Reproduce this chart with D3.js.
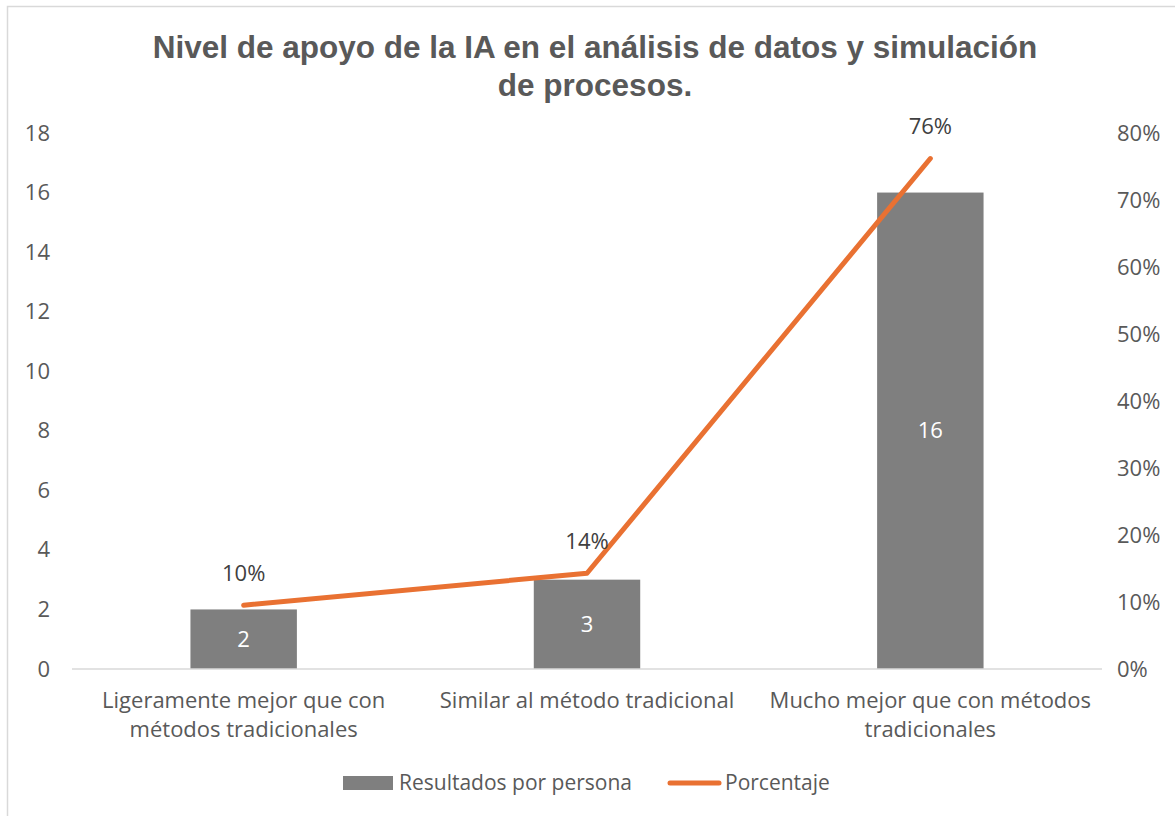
<!DOCTYPE html>
<html>
<head>
<meta charset="utf-8">
<script src="https://cdn.jsdelivr.net/npm/d3@7"></script>
<style>
  html, body { margin: 0; padding: 0; background: #fff; }
  svg { display: block; }
  text { font-family: "Open Sans", "Liberation Sans", sans-serif; fill: #595959; }
</style>
</head>
<body>
<svg id="chart"></svg>
<script>
// data
const categories = [
    ['Ligeramente mejor que con', 'métodos tradicionales'],
    ['Similar al método tradicional'],
    ['Mucho mejor que con métodos', 'tradicionales']
];
const personas = [2, 3, 16];
const porcentaje = [0.0952, 0.1429, 0.7619];
const leftTicks = [0, 2, 4, 6, 8, 10, 12, 14, 16, 18];
const rightTicks = [0, 0.1, 0.2, 0.3, 0.4, 0.5, 0.6, 0.7, 0.8];
const titleLines = ['Nivel de apoyo de la IA en el análisis de datos y simulación', 'de procesos.'];
const legendNames = ['Resultados por persona', 'Porcentaje'];

const width = 1175, height = 816;
const margin = { top: 133, right: 73, bottom: 147, left: 72 };
const barColor = '#7f7f7f', lineColor = '#e97132';

const svg = d3.select('#chart').attr('width', width).attr('height', height);

//chart frame (only left and top edges are in view)
svg.append('rect')
    .attr('x', 7.5).attr('y', 6.5)
    .attr('width', width + 20).attr('height', height + 20)
    .attr('fill', 'none').attr('stroke', '#d9d9d9').attr('stroke-width', 1.5);

//title
svg.append('text')
    .attr('text-anchor', 'middle')
    .style('font-family', '"Liberation Sans", Arial, sans-serif')
    .style('font-weight', 'bold').style('font-size', '31.5px')
    .selectAll('tspan').data(titleLines)
    .enter().append('tspan')
    .attr('x', 595).attr('y', (d, i) => 58 + i * 38)
    .text(d => d);

const x = d3.scaleBand()
    .domain(d3.range(categories.length))
    .range([margin.left, width - margin.right])
    .paddingInner(0.69).paddingOuter(0.345);

const yLeft = d3.scaleLinear().domain([0, 18]).range([height - margin.bottom, margin.top]);
const yRight = d3.scaleLinear().domain([0, 0.8]).range([height - margin.bottom, margin.top]);

//left axis labels
const leftAxis = svg.append('g')
    .attr('transform', `translate(${margin.left - 22},0)`)
    .call(d3.axisLeft(yLeft).tickValues(leftTicks).tickSize(0).tickPadding(0));
leftAxis.select('.domain').remove();
leftAxis.selectAll('text').style('font-size', '22px').attr('fill', '#595959')
    .style('font-family', '"Open Sans", sans-serif');

//right axis labels
const rightAxis = svg.append('g')
    .attr('transform', `translate(${width - margin.right + 15},0)`)
    .call(d3.axisRight(yRight).tickValues(rightTicks).tickSize(0).tickPadding(0).tickFormat(d3.format('.0%')));
rightAxis.select('.domain').remove();
rightAxis.selectAll('text').style('font-size', '22px').attr('fill', '#595959')
    .style('font-family', '"Open Sans", sans-serif');

//bars
svg.append('g').selectAll('rect').data(personas)
    .enter().append('rect')
    .attr('x', (d, i) => x(i))
    .attr('y', d => yLeft(d))
    .attr('width', x.bandwidth())
    .attr('height', d => yLeft(0) - yLeft(d))
    .attr('fill', barColor);

//baseline
svg.append('line')
    .attr('x1', margin.left).attr('x2', width - margin.right)
    .attr('y1', yLeft(0)).attr('y2', yLeft(0))
    .attr('stroke', '#d9d9d9').attr('stroke-width', 1.5);

//bar value labels
svg.append('g').selectAll('text').data(personas)
    .enter().append('text')
    .attr('x', (d, i) => x(i) + x.bandwidth() / 2)
    .attr('y', d => (yLeft(d) + yLeft(0)) / 2)
    .attr('dy', '0.35em')
    .attr('text-anchor', 'middle')
    .style('fill', '#fff').style('font-size', '22px')
    .text(d => d);

//percentage line
const line = d3.line()
    .x((d, i) => x(i) + x.bandwidth() / 2)
    .y(d => yRight(d));

svg.append('path')
    .datum(porcentaje)
    .attr('d', line)
    .attr('fill', 'none')
    .attr('stroke', lineColor)
    .attr('stroke-width', 5)
    .attr('stroke-linecap', 'round')
    .attr('stroke-linejoin', 'round');

//percentage labels
svg.append('g').selectAll('text').data(porcentaje)
    .enter().append('text')
    .attr('x', (d, i) => x(i) + x.bandwidth() / 2)
    .attr('y', d => yRight(d) - 32)
    .attr('dy', '0.35em')
    .attr('text-anchor', 'middle')
    .style('font-size', '22px').style('fill', '#404040')
    .text(d => d3.format('.0%')(d));

//category labels
svg.append('g').selectAll('text').data(categories)
    .enter().append('text')
    .attr('text-anchor', 'middle')
    .style('font-size', '22px')
    .each(function (d, i) {
        d3.select(this).selectAll('tspan').data(d)
            .enter().append('tspan')
            .attr('x', x(i) + x.bandwidth() / 2)
            .attr('y', (t, j) => 708 + j * 29)
            .text(t => t);
    });

//legend
const legend = svg.append('g');
legend.append('rect')
    .attr('x', 343).attr('y', 776).attr('width', 50).attr('height', 14)
    .attr('fill', barColor);
legend.append('text')
    .attr('x', 399).attr('y', 783).attr('dy', '0.35em')
    .style('font-size', '21px')
    .text(legendNames[0]);
legend.append('line')
    .attr('x1', 670).attr('x2', 719).attr('y1', 783).attr('y2', 783)
    .attr('stroke', lineColor).attr('stroke-width', 5).attr('stroke-linecap', 'round');
legend.append('text')
    .attr('x', 725).attr('y', 783).attr('dy', '0.35em')
    .style('font-size', '21px')
    .text(legendNames[1]);
</script>
</body>
</html>
